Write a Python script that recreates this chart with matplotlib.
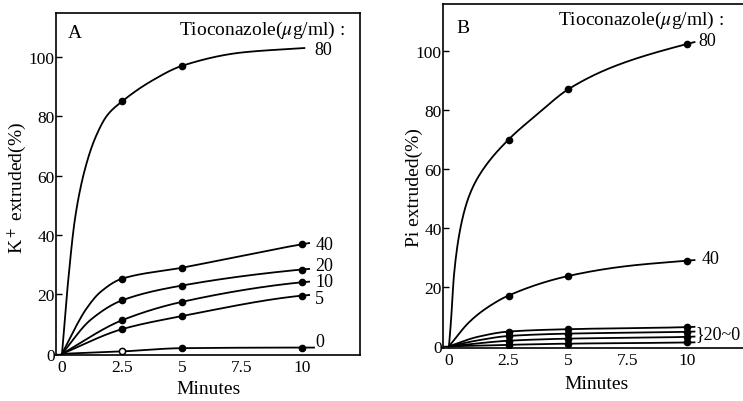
import numpy as np
import matplotlib
matplotlib.use("Agg")
import matplotlib.pyplot as plt

plt.rcParams['font.family'] = ['Liberation Serif', 'DejaVu Serif']
plt.rcParams['mathtext.fontset'] = 'stix'

# ---------------- data ----------------
minutes = [2.5, 5, 10]
xticks = [0, 2.5, 5, 7.5, 10]
xtick_labels = ["0", "2.5", "5", "7.5", "10"]
yticks = [0, 20, 40, 60, 80, 100]

# Panel A: K+ extruded (%)
a_labels = ["80", "40", "20", "10", "5", "0"]
a_mark_x = {"80": [2.5, 5], "40": minutes, "20": minutes, "10": minutes, "5": minutes, "0": minutes}
a_mark_y = {"80": [85, 97], "40": [25.3, 29, 36.9], "20": [18, 23, 28.4],
            "10": [11.3, 17.5, 24.1], "5": [8.3, 12.7, 19.6], "0": [0.8, 1.9, 2.1]}
# curve traces
a_trace_x = {"80": [0, 0.25, 0.55, 0.95, 1.4, 1.9, 2.5, 3.75, 5, 7.5, 10.1],
             "40": [0, 0.6, 1.0, 1.6, 2.5, 5, 10, 10.3],
             "20": [0, 1.2, 2.5, 5, 10, 10.3],
             "10": [0, 2.5, 5, 10, 10.3],
             "5": [0, 2.5, 5, 10, 10.3],
             "0": [0, 2.5, 5, 10, 10.5]}
a_trace_y = {"80": [0, 24, 46, 62, 73, 80.5, 85, 92, 97, 101.5, 103],
             "40": [0, 9.5, 15, 20.8, 25.3, 29, 36.9, 37.3],
             "20": [0, 11.5, 18, 23, 28.4, 28.6],
             "10": [0, 11.3, 17.5, 24.1, 24.3],
             "5": [0, 8.3, 12.7, 19.6, 19.8],
             "0": [0, 0.8, 1.9, 2.1, 2.1]}

# Panel B: Pi extruded (%)
b_labels = ["80", "40", "20", "10", "5", "0"]
b_mark_y = {"80": [70, 87, 102.4], "40": [17.2, 23.8, 29],
            "20": [5.0, 5.8, 6.5], "10": [3.5, 4.3, 4.9],
            "5": [1.9, 2.6, 3.2], "0": [0.5, 0.9, 1.3]}
b_trace_x = {"80": [0, 0.08, 0.22, 0.5, 0.85, 1.34, 2.5, 3.7, 5, 7, 10, 10.3],
             "40": [0, 0.85, 1.55, 2.5, 5, 7.5, 10, 10.3],
             "20": [0, 1.2, 2.5, 5, 10, 10.3],
             "10": [0, 1.2, 2.5, 5, 10, 10.3],
             "5": [0, 1.2, 2.5, 5, 10, 10.3],
             "0": [0, 1.2, 2.5, 5, 10, 10.3]}
b_trace_y = {"80": [0, 8, 25, 40.8, 51, 58.8, 70, 78.5, 87, 95, 102.4, 103],
             "40": [0, 8.2, 12.8, 17.2, 23.8, 27.2, 29, 29.2],
             "20": [0, 3.2, 5.0, 5.8, 6.5, 6.6],
             "10": [0, 2.0, 3.5, 4.3, 4.9, 5.0],
             "5": [0, 1.0, 1.9, 2.6, 3.2, 3.3],
             "0": [0, 0.2, 0.5, 0.9, 1.3, 1.35]}


def pchip(x, y, xs):
    x = np.asarray(x, float); y = np.asarray(y, float)
    h = np.diff(x); d = np.diff(y) / h
    n = len(x)
    m = np.zeros(n)
    for k in range(1, n - 1):
        if d[k - 1] * d[k] <= 0:
            m[k] = 0
        else:
            w1 = 2 * h[k] + h[k - 1]; w2 = h[k] + 2 * h[k - 1]
            m[k] = (w1 + w2) / (w1 / d[k - 1] + w2 / d[k])
    m[0] = d[0]; m[-1] = d[-1]
    out = np.empty_like(xs)
    for i, xv in enumerate(xs):
        k = min(max(np.searchsorted(x, xv) - 1, 0), n - 2)
        t = (xv - x[k]) / h[k]
        h00 = 2*t**3 - 3*t**2 + 1; h10 = t**3 - 2*t**2 + t
        h01 = -2*t**3 + 3*t**2; h11 = t**3 - t**2
        out[i] = h00*y[k] + h10*h[k]*m[k] + h01*y[k+1] + h11*h[k]*m[k+1]
    return out


W, H = 743, 402
fig = plt.figure(figsize=(W/100, H/100), dpi=100)

def px_axes(l, t, r, b):
    return fig.add_axes([l/W, 1 - b/H, (r - l)/W, (b - t)/H])

axA = px_axes(56, 14, 360, 356)
axB = px_axes(443, 5, 745, 348.5)

lw = 1.3
FS = 14
LFS = 13
for ax, ytop in ((axA, 114.8), (axB, 115.9)):
    ax.set_xlim(-0.25, 12.42)
    ax.set_ylim(-0.4, ytop)
    ax.set_xticks(xticks)
    ax.set_xticklabels(xtick_labels)
    ax.set_yticks(yticks)
    ax.tick_params(axis='y', direction='in', length=4, width=1, pad=1, labelsize=12.5)
    ax.tick_params(axis='x', length=0, pad=3, labelsize=12.5)
    for s in ax.spines.values():
        s.set_linewidth(1.2)

# Panel A
for lab in a_labels:
    xs = np.linspace(a_trace_x[lab][0], a_trace_x[lab][-1], 300)
    axA.plot(xs, pchip(a_trace_x[lab], a_trace_y[lab], xs), color='black', lw=lw)
    if lab == "0":
        axA.plot(a_mark_x[lab][:1], a_mark_y[lab][:1], 'o', ms=4.5, mfc='white', mec='black', mew=1.1)
        axA.plot(a_mark_x[lab][1:], a_mark_y[lab][1:], 'o', ms=4.5, color='black')
    else:
        axA.plot(a_mark_x[lab], a_mark_y[lab], 'o', ms=4.5, color='black')

a_lab_pos = {"80": (10.5, 102.5), "40": (10.55, 36.7), "20": (10.55, 29.8),
             "10": (10.55, 24.3), "5": (10.55, 18.7), "0": (10.55, 4.0)}
for lab, (x, y) in a_lab_pos.items():
    axA.text(x, y, lab, fontsize=LFS, va='center', ha='left')

axA.text(0.04, 0.944, "A", transform=axA.transAxes, fontsize=FS, va='center', ha='left')
axA.text(0.95, 0.953, "Tioconazole($\\mu$g/ml) :", transform=axA.transAxes, fontsize=FS,
         va='center', ha='right')
fig.text(17/W, 1 - 188/H, "K$^+$ extruded(%)", rotation=90, fontsize=FS, va='center', ha='center')
fig.text(209/W, 1 - 390/H, "Minutes", fontsize=FS, va='center', ha='center')

# Panel B
for lab in b_labels:
    xs = np.linspace(b_trace_x[lab][0], b_trace_x[lab][-1], 300)
    axB.plot(xs, pchip(b_trace_x[lab], b_trace_y[lab], xs), color='black', lw=lw)
    axB.plot(minutes, b_mark_y[lab], 'o', ms=4.5, color='black')

axB.text(10.45, 103.5, "80", fontsize=LFS, va='center', ha='left')
axB.text(10.6, 29.7, "40", fontsize=LFS, va='center', ha='left')
axB.text(10.35, 4.2, "}20~0", fontsize=LFS, va='center', ha='left')
axB.text(0.045, 0.933, "B", transform=axB.transAxes, fontsize=FS, va='center', ha='left')
axB.text(0.38, 0.955, "Tioconazole($\\mu$g/ml) :", transform=axB.transAxes, fontsize=FS,
         va='center', ha='left')
fig.text(414/W, 1 - 188/H, "Pi extruded(%)", rotation=90, fontsize=FS, va='center', ha='center')
fig.text(597/W, 1 - 385/H, "Minutes", fontsize=FS, va='center', ha='center')

fig.savefig("out.png", dpi=100)
